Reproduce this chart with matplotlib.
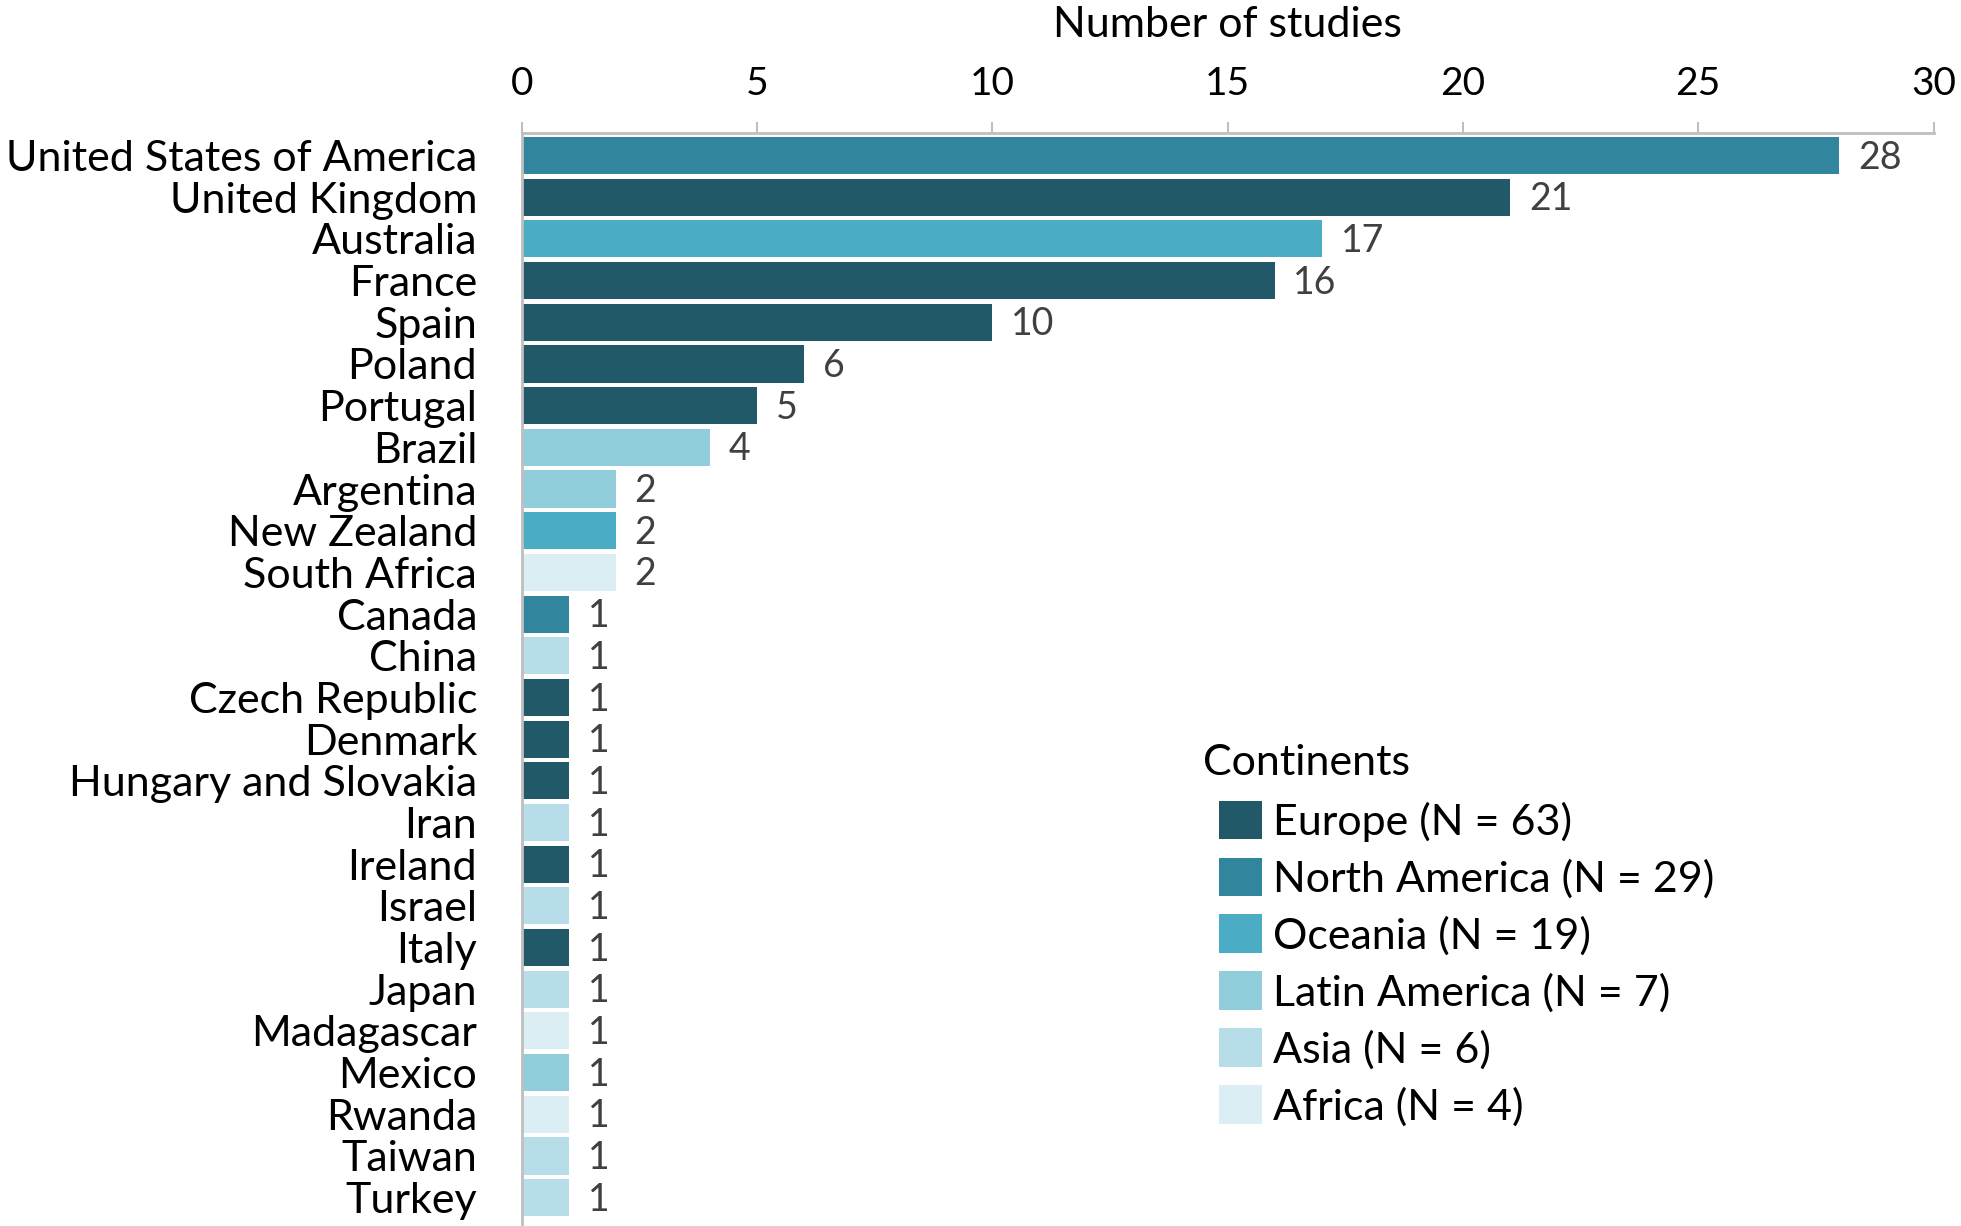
import matplotlib
matplotlib.use("Agg")
import matplotlib.pyplot as plt
from matplotlib.patches import Patch

plt.rcParams['font.family'] = ['Lato', 'DejaVu Sans']

# data
countries = ["United States of America", "United Kingdom", "Australia", "France",
             "Spain", "Poland", "Portugal", "Brazil", "Argentina", "New Zealand",
             "South Africa", "Canada", "China", "Czech Republic", "Denmark",
             "Hungary and Slovakia", "Iran", "Ireland", "Israel", "Italy", "Japan",
             "Madagascar", "Mexico", "Rwanda", "Taiwan", "Turkey"]
studies = [28, 21, 17, 16, 10, 6, 5, 4, 2, 2, 2, 1, 1, 1, 1, 1, 1, 1, 1, 1, 1, 1, 1, 1, 1, 1]
continent = ["North America", "Europe", "Oceania", "Europe", "Europe", "Europe", "Europe",
             "Latin America", "Latin America", "Oceania", "Africa", "North America", "Asia",
             "Europe", "Europe", "Europe", "Asia", "Europe", "Asia", "Europe", "Asia",
             "Africa", "Latin America", "Africa", "Asia", "Asia"]
legend_names = ["Europe", "North America", "Oceania", "Latin America", "Asia", "Africa"]
legend_counts = [63, 29, 19, 7, 6, 4]
colors = {"Europe": "#215968", "North America": "#31859C", "Oceania": "#4BACC6",
          "Latin America": "#92CDDC", "Asia": "#B7DEE8", "Africa": "#DAEEF3"}

fig = plt.figure(figsize=(19.61, 12.26), dpi=100)
ax = fig.add_axes([0.266, 0.0, 0.72, 0.8915])

ypos = list(range(len(countries)))
ax.barh(ypos, studies, height=0.89, color=[colors[c] for c in continent])
for y, v in zip(ypos, studies):
    ax.text(v + 0.4, y + 0.05, str(v), va='center', ha='left', fontsize=27, color='#404040')

ax.set_ylim(25.68, -0.54)
ax.set_xlim(0, 30)
ax.set_yticks(ypos)
ax.set_yticklabels(countries, fontsize=31)
ax.tick_params(axis='y', length=0, pad=32)
ax.xaxis.tick_top()
ax.xaxis.set_label_position('top')
ax.set_xticks([0, 5, 10, 15, 20, 25, 30])
ax.tick_params(axis='x', labelsize=28, length=8, color='#BFBFBF', width=1.5, pad=14)
ax.set_xlabel("Number of studies", fontsize=31, labelpad=21)
for s in ['right', 'bottom']:
    ax.spines[s].set_visible(False)
for s in ['top', 'left']:
    ax.spines[s].set_color('#BFBFBF')
    ax.spines[s].set_linewidth(2)

# legend: title drawn as text so the squares sit indented under it
fig.text(1203 / 1961, 1 - 763 / 1226, "Continents", fontsize=31, va='center', ha='left')
handles = [Patch(facecolor=colors[n], label=f"{n} (N = {c})")
           for n, c in zip(legend_names, legend_counts)]
leg = fig.legend(handles=handles, loc='upper left',
                 bbox_to_anchor=(0.6216, 0.347), frameon=False, fontsize=31,
                 handlelength=1.0, handleheight=1.0,
                 labelspacing=0.37, handletextpad=0.25, borderaxespad=0, borderpad=0)

fig.savefig("out.png", dpi=100)
